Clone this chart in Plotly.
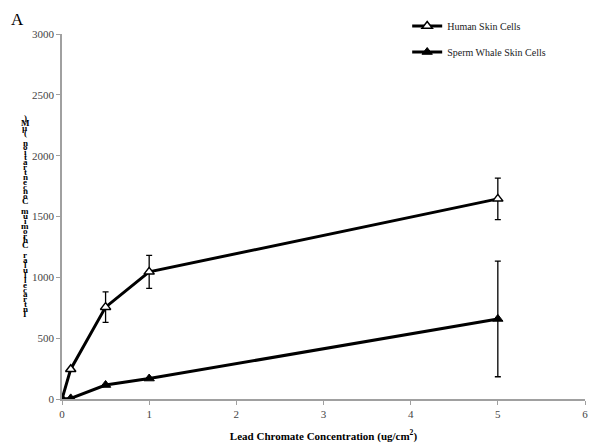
import plotly.graph_objects as go

conc = [0, 0.1, 0.5, 1, 5]
human = [0, 245, 755, 1045, 1645]
human_err = [0, 0, 125, 135, 170]
whale = [0, 5, 115, 168, 658]
whale_err = [0, 0, 0, 0, 475]
series_names = ["Human Skin Cells", "Sperm Whale Skin Cells"]
x_ticks = [0, 1, 2, 3, 4, 5, 6]
y_ticks = [0, 500, 1000, 1500, 2000, 2500, 3000]
y_title_garbled = ")Mµ( noitartnecnoC muimorhC ralullecartnI"

FONT = "Liberation Serif"

fig = go.Figure()
fig.add_trace(go.Scatter(
    x=conc, y=human, name=series_names[0], mode="lines+markers",
    line=dict(color="black", width=3),
    marker=dict(symbol="triangle-up", size=9, color="white", line=dict(color="black", width=1.5)),
    error_y=dict(type="data", array=human_err, color="black", thickness=1.3, width=3),
    legendgroup="a",
))
fig.add_trace(go.Scatter(
    x=conc, y=whale, name=series_names[1], mode="lines+markers",
    line=dict(color="black", width=3),
    marker=dict(symbol="triangle-up", size=9, color="black", line=dict(color="black", width=1)),
    error_y=dict(type="data", array=whale_err, color="black", thickness=1.3, width=3),
    legendgroup="b",
))

# screen positions (page has an 8px body margin)
plot_top, plot_bot, plot_left, plot_w = 34, 399, 62, 524
annotations = [
    dict(text="A", x=(9 - plot_left) / plot_w, y=(plot_bot - 8) / (plot_bot - plot_top),
         xref="paper", yref="paper", showarrow=False,
         xanchor="left", yanchor="top", font=dict(size=17, family=FONT, color="black")),
]

# garbled stacked y-axis title, one upright glyph per step as in the reference
n = len(y_title_garbled)
top_px, bot_px = 118, 314
for i, ch in enumerate(y_title_garbled):
    if ch == " ":
        continue
    py = top_px + (bot_px - top_px) * i / (n - 1)
    yp = (plot_bot - py) / (plot_bot - plot_top)
    annotations.append(dict(text=ch, x=(25 - plot_left) / plot_w, y=yp, xref="paper", yref="paper",
                            showarrow=False, xanchor="center", yanchor="middle",
                            font=dict(size=9, family=FONT, color="black", weight="bold")))

fig.update_layout(
    width=592, height=440,
    margin=dict(l=54, r=14.5, t=26, b=49, autoexpand=False),
    paper_bgcolor="white", plot_bgcolor="white",
    font=dict(family=FONT, size=11, color="#444444"),
    showlegend=True,
    legend=dict(x=0.66, y=1.0616, xanchor="left", yanchor="top",
                font=dict(family=FONT, size=10, color="#222222"),
                traceorder="grouped", tracegroupgap=7, itemwidth=30,
                bgcolor="rgba(0,0,0,0)"),
    xaxis=dict(range=[0, 6], tickvals=x_ticks, showgrid=False, zeroline=False,
               showline=True, linecolor="#a0a0a0", linewidth=1.5,
               ticks="outside", tickcolor="#a0a0a0", ticklen=4,
               tickfont=dict(family=FONT, size=11, color="#444444"),
               title=dict(text="<b>Lead Chromate Concentration (ug/cm<sup>2</sup>)</b>",
                          font=dict(family=FONT, size=11, color="black"), standoff=13)),
    yaxis=dict(range=[0, 3000], tickvals=y_ticks, showgrid=False, zeroline=False,
               showline=True, linecolor="#a0a0a0", linewidth=1.5,
               ticks="outside", tickcolor="#a0a0a0", ticklen=4,
               tickfont=dict(family=FONT, size=11, color="#444444")),
    annotations=annotations,
)

fig.write_html("out.html")
